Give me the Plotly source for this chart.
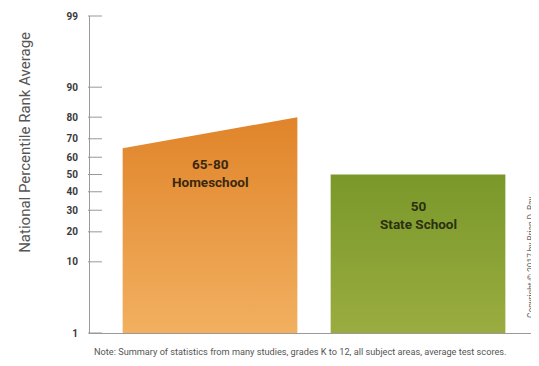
import plotly.graph_objects as go
from statistics import NormalDist

categories = ["Homeschool", "State School"]
low_values = [65, 50]
high_values = [80, 50]
bar_labels = ["65-80<br>Homeschool", "50<br>State School"]
tick_percentiles = [1, 10, 20, 30, 40, 50, 60, 70, 80, 90, 99]
top_colors = ["#E0842A", "#7A982A"]
bottom_colors = ["#F2B060", "#9AAC40"]
label_colors = ["#3a2810", "#2a3010"]

nd = NormalDist()
z = lambda p: nd.inv_cdf(p / 100.0)

FONT = "Roboto, Liberation Sans, sans-serif"
half = 0.42
base = z(1)
x_range = [-0.577, 1.5625]
px_per_unit = 445 / (x_range[1] - x_range[0])

fig = go.Figure()
for i, cat in enumerate(categories):
    xs = [i - half, i - half, i + half, i + half, i - half]
    ys = [base, z(low_values[i]), z(high_values[i]), base, base]
    fig.add_trace(go.Scatter(
        x=xs, y=ys, mode="lines", fill="toself",
        line=dict(width=0, color=top_colors[i]),
        fillgradient=dict(type="vertical",
                          colorscale=[[0, bottom_colors[i]], [1, top_colors[i]]]),
        hoverinfo="skip", showlegend=False, name=cat))
    fig.add_annotation(x=i, y=(z(low_values[i]) + z(high_values[i])) / 2, yshift=-21,
                       text="<b>" + bar_labels[i] + "</b>", showarrow=False, yanchor="top",
                       font=dict(family=FONT, size=13.5, color=label_colors[i]))

# inside tick marks on the y axis (one per tick percentile)
fig.add_trace(go.Scatter(
    x=[x_range[0] + 5 / px_per_unit] * len(tick_percentiles),
    y=[z(p) for p in tick_percentiles],
    mode="markers", cliponaxis=False, hoverinfo="skip", showlegend=False,
    marker=dict(symbol="line-ew", size=10, line=dict(width=1, color="#999999"))))

fig.update_layout(
    width=531, height=358,
    margin=dict(l=82, r=4, t=8, b=33, autoexpand=False),
    paper_bgcolor="white", plot_bgcolor="white",
    xaxis=dict(range=x_range, showgrid=False, zeroline=False, automargin=False,
               showticklabels=False, showline=True, linecolor="#9a9a9a", linewidth=1),
    yaxis=dict(range=[z(1), z(99)], showgrid=False, zeroline=False, automargin=False,
               tickmode="array",
               tickvals=[z(p) for p in tick_percentiles],
               ticktext=[str(p) for p in tick_percentiles],
               ticks="", showline=True, linecolor="#9a9a9a", linewidth=1,
               tickfont=dict(family=FONT, size=10, color="#3a3a3a", weight="bold"),
               ticklabelstandoff=9),
    font=dict(family=FONT),
)
fig.add_annotation(xref="paper", yref="paper", x=-0.146, y=0.60, textangle=-90,
                   xanchor="center", yanchor="middle",
                   text="National Percentile Rank Average", showarrow=False,
                   font=dict(family=FONT, size=15, color="#555555"))
fig.add_annotation(xref="paper", yref="paper", x=0.473, y=-0.035, yanchor="top",
                   text="Note: Summary of statistics from many studies, grades K to 12, all subject areas, average test scores.",
                   showarrow=False, font=dict(family=FONT, size=9.2, color="#555555"))
fig.add_annotation(xref="paper", yref="paper", x=0.991, y=0.24, textangle=-90,
                   xanchor="center", yanchor="middle",
                   text="Copyright © 2017 by Brian D. Ray",
                   showarrow=False, font=dict(family=FONT, size=8.3, color="#666666"))
fig.write_html("out.html")
